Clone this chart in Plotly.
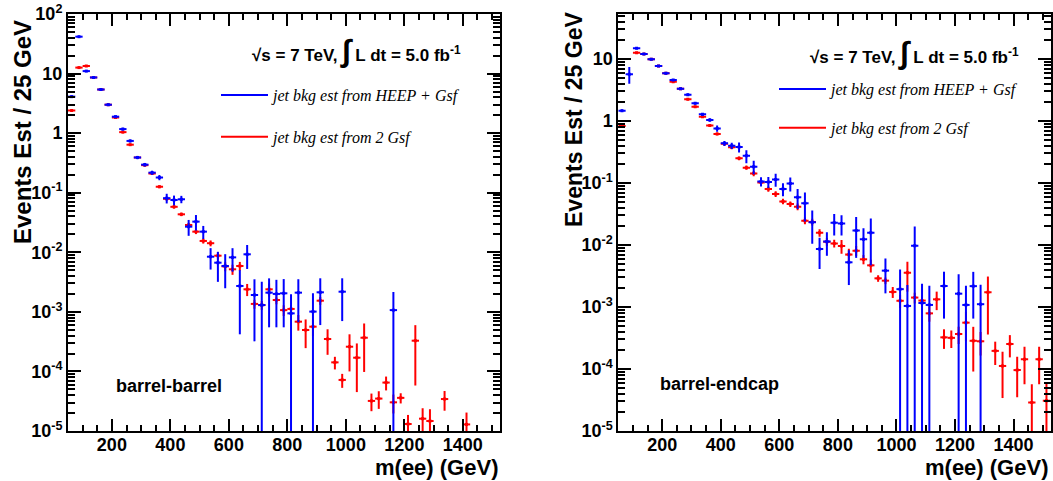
import plotly.graph_objects as go

# ---------------- data (bin centres in GeV, events / 25 GeV, errors) ----------------
bb_heep_m = [62.5, 87.5, 112.5, 137.5, 162.5, 187.5, 212.5, 237.5, 262.5, 287.5, 312.5, 337.5,
             362.5, 387.5, 412.5, 437.5, 462.5, 487.5, 512.5, 537.5, 562.5, 587.5, 612.5, 637.5,
             662.5, 687.5, 712.5, 737.5, 762.5, 787.5, 812.5, 837.5, 887.5, 912.5, 987.5, 1162.5]
bb_heep_v = [4.1, 41.6, 11.0, 8.6, 5.4, 3.0, 1.89, 1.17, 0.74, 0.39, 0.296, 0.217,
             0.180, 0.081, 0.0755, 0.0776, 0.0269, 0.0327, 0.0222, 0.00843, 0.00669, 0.00589, 0.00822, 0.00272,
             0.00925, 0.00192, 0.0013, 0.0021, 0.0020, 0.00205, 0.000944, 0.0021, 0.00101, 0.00213, 0.00218, 0.00107]
bb_heep_e = [0.15, 1.2, 0.35, 0.3, 0.2, 0.12, 0.08, 0.06, 0.04, 0.025, 0.02, 0.017,
             0.018, 0.015, 0.014, 0.011, 0.008, 0.0095, 0.0055, 0.0033, 0.0035, 0.0034, 0.0035, 0.0023,
             0.004, 0.0016, 0.0019, 0.00155, 0.00145, 0.0015, 0.00104, 0.00143, 0.00104, 0.00153, 0.00148, 0.00108]

bb_2gsf_m = [62.5, 87.5, 112.5, 137.5, 162.5, 187.5, 212.5, 237.5, 262.5, 287.5, 312.5, 337.5,
             362.5, 387.5, 412.5, 437.5, 462.5, 487.5, 512.5, 537.5, 562.5, 587.5, 612.5, 637.5,
             662.5, 687.5, 712.5, 737.5, 762.5, 787.5, 812.5, 837.5, 862.5, 887.5, 912.5, 937.5,
             962.5, 987.5, 1012.5, 1037.5, 1062.5, 1087.5, 1112.5, 1137.5, 1162.5, 1187.5, 1212.5,
             1237.5, 1262.5, 1287.5, 1337.5, 1412.5]
bb_2gsf_v = [2.4, 12.6, 13.4, 8.6, 5.4, 3.0, 1.83, 1.04, 0.64, 0.39, 0.29, 0.21,
             0.126, 0.079, 0.058, 0.0434, 0.0287, 0.0222, 0.0155, 0.0142, 0.00877, 0.0058, 0.00518, 0.00589,
             0.00239, 0.00136, 0.0013, 0.00239, 0.00158, 0.00107, 0.00112, 0.000684, 0.000496, 0.000564, 0.00154, 0.00035,
             0.000142, 7.2e-5, 0.00026, 0.00017, 0.000368, 3.2e-5, 3.5e-5, 6.5e-5, 3.03e-5, 3.6e-5, 1.31e-5,
             0.000328, 1.61e-5, 1.47e-5, 3.44e-5, 1.29e-5]
bb_2gsf_e = [0.08, 0.3, 0.3, 0.2, 0.14, 0.09, 0.06, 0.04, 0.025, 0.017, 0.013, 0.01,
             0.007, 0.005, 0.004, 0.003, 0.0025, 0.002, 0.0015, 0.0016, 0.0012, 0.001, 0.001, 0.001,
             0.00055, 0.00023, 0.00022, 0.0006, 0.00024, 0.00022, 0.00017, 0.0002, 0.00025, 0.00017, 0.00023, 0.00016,
             3.4e-5, 1.9e-5, 0.00016, 0.000125, 0.00027, 1.05e-5, 1.15e-5, 1.7e-5, 1.06e-5, 0.7e-5, 0.55e-5,
             0.00027, 0.8e-5, 0.85e-5, 1.25e-5, 0.75e-5]

be_heep_m = [62.5, 87.5, 112.5, 137.5, 162.5, 187.5, 212.5, 237.5, 262.5, 287.5, 312.5, 337.5,
             362.5, 387.5, 412.5, 437.5, 462.5, 487.5, 512.5, 537.5, 562.5, 587.5, 612.5, 637.5,
             662.5, 687.5, 712.5, 737.5, 762.5, 787.5, 812.5, 837.5, 862.5, 887.5, 912.5, 962.5,
             1012.5, 1037.5, 1062.5, 1087.5, 1112.5, 1162.5, 1212.5, 1237.5, 1262.5, 1287.5]
be_heep_v = [1.47, 5.7, 14.9, 12.0, 9.9, 7.7, 5.9, 4.6, 3.3, 2.66, 1.93, 1.28,
             1.04, 0.76, 0.437, 0.40, 0.38, 0.274, 0.183, 0.106, 0.104, 0.114, 0.08, 0.098,
             0.059, 0.047, 0.0232, 0.0086, 0.0114, 0.0229, 0.0222, 0.00526, 0.0172, 0.0124, 0.0157, 0.00386,
             0.00194, 0.00104, 0.0097, 0.00116, 0.00108, 0.00218, 0.00164, 0.00108, 0.00217, 0.00111]
be_heep_e = [0.06, 1.7, 0.5, 0.4, 0.3, 0.25, 0.2, 0.17, 0.13, 0.11, 0.09, 0.07,
             0.07, 0.09, 0.04, 0.045, 0.07, 0.065, 0.045, 0.018, 0.021, 0.027, 0.019, 0.025,
             0.021, 0.023, 0.0127, 0.0045, 0.0047, 0.0087, 0.008, 0.003, 0.011, 0.0062, 0.011, 0.0022,
             0.0021, 0.00123, 0.0102, 0.00122, 0.00112, 0.00153, 0.00172, 0.00112, 0.00152, 0.00117]

be_2gsf_m = [62.5, 112.5, 137.5, 162.5, 187.5, 212.5, 237.5, 262.5, 287.5, 312.5, 337.5,
             362.5, 387.5, 412.5, 437.5, 462.5, 487.5, 512.5, 537.5, 562.5, 587.5, 612.5, 637.5,
             662.5, 687.5, 712.5, 737.5, 762.5, 787.5, 812.5, 837.5, 862.5, 887.5, 912.5, 937.5,
             962.5, 987.5, 1012.5, 1037.5, 1062.5, 1087.5, 1112.5, 1137.5, 1162.5, 1187.5, 1212.5,
             1237.5, 1262.5, 1287.5, 1312.5, 1337.5, 1362.5, 1387.5, 1412.5, 1437.5, 1462.5, 1487.5, 1512.5]
be_2gsf_v = [0.83, 12.6, 12.0, 9.9, 7.7, 5.9, 4.3, 3.3, 2.24, 1.70, 1.17,
             0.85, 0.62, 0.43, 0.376, 0.25, 0.177, 0.142, 0.102, 0.08, 0.0665, 0.0505, 0.0458,
             0.0415, 0.0247, 0.0236, 0.0158, 0.0113, 0.0106, 0.0096, 0.0070, 0.0081, 0.00588, 0.0047, 0.0029,
             0.00266, 0.00175, 0.00126, 0.00357, 0.00142, 0.00127, 0.00079, 0.00133, 0.000324, 0.000318, 0.000367,
             0.000559, 0.000285, 0.00028, 0.00173, 0.000196, 0.000112, 0.000253, 9.6e-5, 0.000143, 2.87e-5, 0.000143, 3.08e-5]
be_2gsf_e = [0.05, 0.3, 0.3, 0.25, 0.2, 0.16, 0.13, 0.1, 0.08, 0.065, 0.05,
             0.04, 0.03, 0.03, 0.025, 0.018, 0.014, 0.014, 0.009, 0.008, 0.007, 0.005, 0.0046,
             0.005, 0.003, 0.003, 0.0022, 0.0017, 0.0015, 0.0024, 0.0017, 0.0015, 0.001, 0.0011, 0.00035,
             0.00032, 0.00035, 0.0003, 0.0018, 0.00028, 0.00025, 0.00021, 0.00044, 0.000113, 0.0001, 0.000114,
             0.00028, 0.000194, 0.000115, 0.00137, 8e-5, 7.8e-5, 9.9e-5, 6.1e-5, 8.6e-5, 2.8e-5, 8.6e-5, 2.95e-5]

bin_half_width = 12.5
x_tick_vals = [200, 400, 600, 800, 1000, 1200, 1400]
y_tick_left = [1e2, 1e1, 1, 1e-1, 1e-2, 1e-3, 1e-4, 1e-5]
y_text_left = ["10<sup>2</sup>", "10", "1", "10<sup>-1</sup>", "10<sup>-2</sup>", "10<sup>-3</sup>",
               "10<sup>-4</sup>", "10<sup>-5</sup>"]
y_tick_right = y_tick_left[1:]
y_text_right = y_text_left[1:]
label_heep = "jet bkg est from HEEP + Gsf"
label_2gsf = "jet bkg est from 2 Gsf"

BLUE = "rgb(0,0,255)"
RED = "rgb(255,0,0)"
W, H = 1053, 481


def px_x(p):
    return p / W


def px_y(p):
    return 1 - p / H


def series(m, v, e, color, xa, ya):
    return go.Scatter(
        x=m, y=v, mode="markers", xaxis=xa, yaxis=ya, showlegend=False,
        marker=dict(color=color, size=3, symbol="square"),
        error_y=dict(type="data", array=e, visible=True, color=color, thickness=2, width=0),
        error_x=dict(type="constant", value=bin_half_width, visible=True, color=color,
                     thickness=2, width=0),
        hoverinfo="x+y",
    )


fig = go.Figure()
fig.add_trace(series(bb_2gsf_m, bb_2gsf_v, bb_2gsf_e, RED, "x", "y"))
fig.add_trace(series(bb_heep_m, bb_heep_v, bb_heep_e, BLUE, "x", "y"))
fig.add_trace(series(be_2gsf_m, be_2gsf_v, be_2gsf_e, RED, "x2", "y2"))
fig.add_trace(series(be_heep_m, be_heep_v, be_heep_e, BLUE, "x2", "y2"))

# legend entries (line samples)
for lg, xa, ya in [("legend", "x", "y"), ("legend2", "x2", "y2")]:
    fig.add_trace(go.Scatter(x=[None], y=[None], mode="lines", name=label_heep, legend=lg,
                             legendgroup=lg + "a", line=dict(color=BLUE, width=2), xaxis=xa, yaxis=ya))
    fig.add_trace(go.Scatter(x=[None], y=[None], mode="lines", name=label_2gsf, legend=lg,
                             legendgroup=lg + "b", line=dict(color=RED, width=2), xaxis=xa, yaxis=ya))

minor_y = [d * 10 ** n for n in range(-5, 2) for d in range(2, 10)]
tickfont = dict(family="Liberation Sans", size=18, color="black", weight="bold")

common_x = dict(range=[50, 1527], tickvals=x_tick_vals, ticks="inside", ticklen=12, tickwidth=1.5,
                tickcolor="black", showline=True, linewidth=2, linecolor="black", mirror="allticks",
                showgrid=False, zeroline=False, tickfont=tickfont, automargin=False,
                ticklabeloverflow="allow", ticklabelstandoff=-4,
                minor=dict(dtick=50, tick0=0, ticks="inside", ticklen=6, tickwidth=1.5, tickcolor="black",
                           showgrid=False))
common_y = dict(type="log", ticks="inside", ticklen=13, tickwidth=1.5, tickcolor="black",
                showline=True, linewidth=2, linecolor="black", mirror="allticks",
                showgrid=False, zeroline=False, tickfont=tickfont, automargin=False,
                ticklabeloverflow="allow",
                minor=dict(tickmode="array", tickvals=minor_y, ticks="inside", ticklen=7, tickwidth=1.5,
                           tickcolor="black", showgrid=False))

yd = [px_y(431), px_y(14)]
legend_font = dict(family="Liberation Serif", size=16, style="italic", color="black")
fig.update_layout(
    width=W, height=H, margin=dict(l=0, r=0, t=0, b=0, autoexpand=False),
    paper_bgcolor="white", plot_bgcolor="white",
    xaxis=dict(domain=[px_x(68), px_x(500)], anchor="y", **common_x),
    yaxis=dict(domain=yd, anchor="x", range=[-5, 2], tickvals=y_tick_left, ticktext=y_text_left, **common_y),
    xaxis2=dict(domain=[px_x(618.3), px_x(1050.7)], anchor="y2", **common_x),
    yaxis2=dict(domain=yd, anchor="x2", range=[-5, 1.726], tickvals=y_tick_right, ticktext=y_text_right,
                **common_y),
    legend=dict(x=px_x(216), y=px_y(78), xanchor="left", yanchor="top", bgcolor="rgba(0,0,0,0)",
                font=legend_font, traceorder="grouped", tracegroupgap=18, itemwidth=47),
    legend2=dict(x=px_x(774), y=px_y(72), xanchor="left", yanchor="top", bgcolor="rgba(0,0,0,0)",
                 font=legend_font, traceorder="grouped", tracegroupgap=15, itemwidth=47),
)

bold = dict(family="Liberation Sans", color="black", weight="bold")
lumi = "√s = 7 TeV, <span style='font-size:31px'>∫</span> L dt = 5.0 fb<sup>-1</sup>"
annots = [
    dict(x=px_x(356), y=px_y(50), text=lumi, font=dict(size=17, **bold)),
    dict(x=px_x(914), y=px_y(52), text=lumi, font=dict(size=17, **bold)),
    dict(x=px_x(168.5), y=px_y(386), text="barrel-barrel", font=dict(size=18, **bold)),
    dict(x=px_x(719), y=px_y(384), text="barrel-endcap", font=dict(size=18, **bold)),
    dict(x=px_x(500), y=px_y(467), text="m(ee) (GeV)", xanchor="right", font=dict(size=22, **bold)),
    dict(x=px_x(1050), y=px_y(467), text="m(ee) (GeV)", xanchor="right", font=dict(size=22, **bold)),
    dict(x=px_x(22), y=px_y(132), text="Events Est / 25 GeV", textangle=-90, font=dict(size=24, **bold)),
    dict(x=px_x(574), y=px_y(120), text="Events Est / 25 GeV", textangle=-90, font=dict(size=23, **bold)),
]
for a in annots:
    a.setdefault("xanchor", "center")
    fig.add_annotation(xref="paper", yref="paper", showarrow=False, yanchor="middle", **a)

fig.write_html("out.html", config={"displayModeBar": False},
               post_script="document.body.style.margin='0px';")
